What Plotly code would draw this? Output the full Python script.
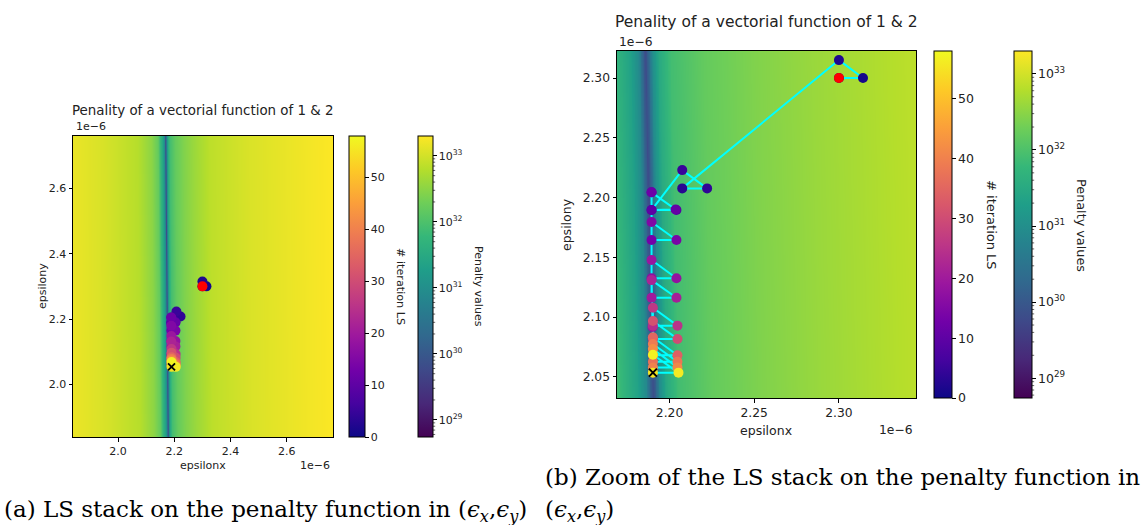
import numpy as np
import plotly.graph_objects as go

W, H = 1144, 525

# ---- line-search evaluation points (units of 1e-6), in evaluation order ----
ls_x = [2.300, 2.3142, 2.300, 2.2075, 2.2222, 2.2075,
        2.1894, 2.2041, 2.1894, 2.1894, 2.2036, 2.1894,
        2.1894, 2.2041, 2.1894, 2.1894, 2.2041, 2.1894,
        2.1894, 2.2041, 2.1894, 2.1900,
        2.1902, 2.2047, 2.1902, 2.1902, 2.2047, 2.1902,
        2.1902, 2.2047, 2.1902, 2.1902, 2.2047, 2.1902,
        2.1902, 2.2047, 2.1902, 2.1902, 2.2053, 2.1902]
ls_y = [2.300, 2.300, 2.315, 2.2077, 2.2077, 2.2230,
        2.1896, 2.1896, 2.2044, 2.1896, 2.1900, 2.2044,
        2.1645, 2.1645, 2.1796, 2.1325, 2.1325, 2.1478,
        2.1162, 2.1162, 2.1310, 2.0918,
        2.0929, 2.0929, 2.1079, 2.0818, 2.0818, 2.0968,
        2.0682, 2.0682, 2.0832, 2.0627, 2.0627, 2.0776,
        2.0580, 2.0580, 2.0734, 2.0536, 2.0536, 2.0686]
ls_iter = [0, 1, 2, 3, 4, 5,
           7, 8, 9, 10, 11, 12,
           13, 14, 15, 17, 18, 19,
           20, 21, 22, 19,
           24, 25, 26, 28, 30, 31,
           33, 34, 35, 37, 38, 39,
           40, 41, 42, 55, 56, 57]
start_x, start_y = [2.300], [2.300]
final_x, final_y = [2.1902], [2.0536]

# ---- penalty field: log10(penalty) across the valley (offset from valley, 1e-6) ----
prof_dx = [-0.34, -0.22, -0.10, -0.05, -0.027, -0.018, -0.009, -0.004, -0.0015, 0.0,
           0.0015, 0.004, 0.008, 0.015, 0.035, 0.065, 0.10, 0.16, 0.30, 0.50, 0.60]
prof_log = [33.18, 33.03, 32.80, 32.50, 32.20, 31.75, 31.35, 30.90, 30.15, 29.80,
            30.15, 30.95, 31.50, 31.90, 32.20, 32.42, 32.60, 32.85, 33.05, 33.22, 33.30]
# valley position read on each panel: (epsilony -> epsilonx)
valA_y, valA_x = [1.84, 2.76], [2.178, 2.169]
valB_y, valB_x = [2.032, 2.323], [2.1905, 2.1858]

iter_ticks = [0, 10, 20, 30, 40, 50]
pen_ticks = [29, 30, 31, 32, 33]
pen_range = [28.74, 33.30]
iter_range = [0, 58]

rangeA_x, rangeA_y = [1.840, 2.764], [1.839, 2.760]
rangeB_x, rangeB_y = [2.169, 2.3455], [2.0324, 2.3226]


def field(xr, yr, vy, vx, nx, ny):
    xs = np.linspace(xr[0], xr[1], nx)
    ys = np.linspace(yr[0], yr[1], ny)
    z = np.array([np.interp(xs - np.interp(y, vy, vx), prof_dx, prof_log) for y in ys])
    return xs, ys, z


fig = go.Figure()

xsA, ysA, zA = field(rangeA_x, rangeA_y, valA_y, valA_x, 260, 60)
xsB, ysB, zB = field(rangeB_x, rangeB_y, valB_y, valB_x, 400, 80)

fig.add_trace(go.Heatmap(x=xsA, y=ysA, z=zA, coloraxis="coloraxis", xaxis="x", yaxis="y",
                         hoverinfo="skip"))
fig.add_trace(go.Scatter(x=ls_x, y=ls_y, mode="markers", xaxis="x", yaxis="y",
                         marker=dict(size=10, color=ls_iter, coloraxis="coloraxis2",
                                     line=dict(width=0)), showlegend=False))
fig.add_trace(go.Scatter(x=start_x, y=start_y, mode="markers", xaxis="x", yaxis="y",
                         marker=dict(size=10, color="red", line=dict(width=0)), showlegend=False))
fig.add_trace(go.Scatter(x=final_x, y=final_y, mode="markers", xaxis="x", yaxis="y",
                         marker=dict(size=7, symbol="x-thin", line=dict(width=1.8, color="black")),
                         showlegend=False))

fig.add_trace(go.Heatmap(x=xsB, y=ysB, z=zB, coloraxis="coloraxis3", xaxis="x2", yaxis="y2",
                         hoverinfo="skip"))
fig.add_trace(go.Scatter(x=ls_x, y=ls_y, mode="lines", xaxis="x2", yaxis="y2",
                         line=dict(color="#00ffff", width=2), showlegend=False))
fig.add_trace(go.Scatter(x=ls_x, y=ls_y, mode="markers", xaxis="x2", yaxis="y2",
                         marker=dict(size=10, color=ls_iter, coloraxis="coloraxis4",
                                     line=dict(width=0)), showlegend=False))
fig.add_trace(go.Scatter(x=start_x, y=start_y, mode="markers", xaxis="x2", yaxis="y2",
                         marker=dict(size=10, color="red", line=dict(width=0)), showlegend=False))
fig.add_trace(go.Scatter(x=final_x, y=final_y, mode="markers", xaxis="x2", yaxis="y2",
                         marker=dict(size=8, symbol="x-thin", line=dict(width=2, color="black")),
                         showlegend=False))

FONT = "DejaVu Sans"


def axis(dom, rng, anchor, dtick, fmt, fs):
    return dict(domain=dom, range=rng, anchor=anchor, dtick=dtick, tick0=0, tickformat=fmt,
                showgrid=False, zeroline=False, showline=True, mirror=True,
                linecolor="black", linewidth=1, ticks="outside", ticklen=3.5, tickwidth=0.8,
                tickcolor="black", tickfont=dict(family=FONT, size=fs, color="#222"))


def px_dom_x(a, b):
    return [a / W, b / W]


def px_dom_y(top, bottom):
    return [1 - bottom / H, 1 - top / H]


pen_text = ["10<sup>%d</sup>" % t for t in pen_ticks]


def cbar(x_left, top, bottom, thick, fs, vals, text=None):
    d = dict(x=x_left / W, xanchor="left", xpad=0, y=1 - top / H, yanchor="top", ypad=0,
             len=(bottom - top) / H, lenmode="fraction", thickness=thick,
             outlinecolor="black", outlinewidth=1, ticks="outside", ticklen=3.5,
             tickwidth=0.8, tickcolor="black", tickvals=vals,
             tickfont=dict(family=FONT, size=fs, color="#222"))
    if text is not None:
        d["ticktext"] = text
    return d


fig.update_layout(
    width=W, height=H, autosize=False,
    margin=dict(l=0, r=0, t=0, b=0),
    paper_bgcolor="white", plot_bgcolor="white",
    showlegend=False,
    xaxis=axis(px_dom_x(73, 333), rangeA_x, "y", 0.2, ".1f", 11),
    yaxis=axis(px_dom_y(136, 437), rangeA_y, "x", 0.2, ".1f", 11),
    xaxis2=axis(px_dom_x(617, 916), rangeB_x, "y2", 0.05, ".2f", 12.3),
    yaxis2=axis(px_dom_y(51, 398), rangeB_y, "x2", 0.05, ".2f", 12.3),
    coloraxis=dict(colorscale="Viridis", cmin=pen_range[0], cmax=pen_range[1],
                   colorbar=cbar(418, 136, 437, 15, 11, pen_ticks, pen_text)),
    coloraxis2=dict(colorscale="Plasma", cmin=iter_range[0], cmax=iter_range[1],
                    colorbar=cbar(349, 136, 437, 16, 11, iter_ticks)),
    coloraxis3=dict(colorscale="Viridis", cmin=pen_range[0], cmax=pen_range[1],
                    colorbar=cbar(1014, 51, 398, 18, 12.5, pen_ticks, pen_text)),
    coloraxis4=dict(colorscale="Plasma", cmin=iter_range[0], cmax=iter_range[1],
                    colorbar=cbar(934, 51, 398, 18, 12.5, iter_ticks)),
)

# minor ticks of the log colorbars (drawn as short lines at the bar's right edge)
minor = [n + np.log10(k) for n in range(28, 34) for k in range(2, 10)
         if pen_range[0] < n + np.log10(k) < pen_range[1]]
for (xr, top, bottom) in [(433, 136, 437), (1032, 51, 398)]:
    for v in minor:
        ypx = top + (pen_range[1] - v) / (pen_range[1] - pen_range[0]) * (bottom - top)
        fig.add_shape(type="line", xref="paper", yref="paper",
                      x0=xr / W, x1=(xr + 2.2) / W, y0=1 - ypx / H, y1=1 - ypx / H,
                      line=dict(color="black", width=0.6))


def ann(text, x, y, size, xanchor="center", yanchor="middle", angle=0, family=FONT, color="#222"):
    fig.add_annotation(text=text, x=x / W, y=1 - y / H, xref="paper", yref="paper",
                       xanchor=xanchor, yanchor=yanchor, showarrow=False, textangle=angle,
                       font=dict(family=family, size=size, color=color))


# left panel texts
ann("Penality of a vectorial function of 1 &amp; 2", 203, 110, 13.4)
ann("1e\u22126", 74, 127, 11, xanchor="left")
ann("1e\u22126", 332, 465, 11, xanchor="right")
ann("epsilonx", 203, 465, 11)
ann("epsilony", 42, 286, 11, angle=-90)
ann("# iteration LS", 401, 286, 11.2, angle=90)
ann("Penalty values", 479, 286, 11.1, angle=90)

# right panel texts
ann("Penality of a vectorial function of 1 &amp; 2", 766, 22, 15.5)
ann("1e\u22126", 617, 42, 12.3, xanchor="left")
ann("1e\u22126", 915, 430, 12.3, xanchor="right")
ann("epsilonx", 766, 430, 12.5)
ann("epsilony", 566, 225, 12.5, angle=-90)
ann("# iteration LS", 992, 225, 13, angle=90)
ann("Penalty values", 1082, 225, 12.8, angle=90)

# captions
eps = "(<i>\u03f5</i><sub><i>x</i></sub>,<i>\u03f5</i><sub><i>y</i></sub>)"
SERIF = "DejaVu Serif"
ann("(a) LS stack on the penalty function in " + eps, 2, 511, 23, xanchor="left",
    family=SERIF, color="black")
ann("(b) Zoom of the LS stack on the penalty function in", 543, 477, 23, xanchor="left",
    family=SERIF, color="black")
ann(eps, 543, 511, 23, xanchor="left", family=SERIF, color="black")

fig.write_html("out.html")
